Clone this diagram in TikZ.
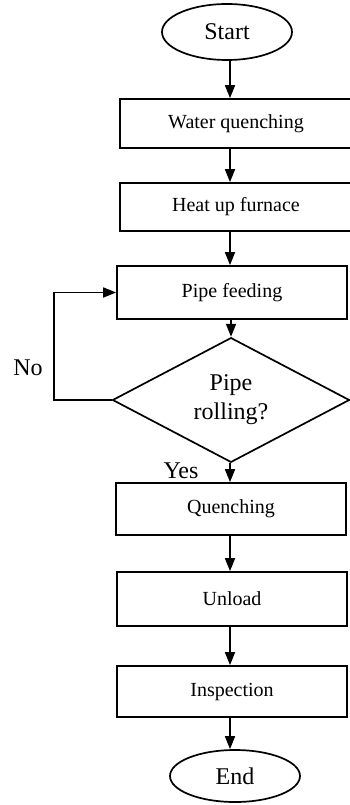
\documentclass[tikz,border=0pt]{standalone}
\usepackage{fontspec}
\setmainfont{Liberation Serif}
\usetikzlibrary{arrows.meta}
\usetikzlibrary{shapes.geometric}

\begin{document}
\begin{tikzpicture}[
  x=1pt, y=-1pt,
  line width=1.7pt,
  >={Triangle[length=13pt,width=10pt]},
  stepbox/.style = {draw, rectangle, minimum width=230pt, inner sep=0pt,
                    font=\fontsize{20}{24}\selectfont},
  term/.style = {draw, ellipse, minimum width=130pt, minimum height=54pt,
                 inner sep=0pt, font=\fontsize{24}{28}\selectfont},
  test/.style = {draw, diamond, minimum width=237pt, minimum height=94pt,
                 inner sep=0pt, align=center, font=\fontsize{24}{29}\selectfont},
  tag/.style = {font=\fontsize{24}{28}\selectfont}
]
  \useasboundingbox (0,0) rectangle (349,805);

  \coordinate (axis) at (230,0);

  \node[term, minimum height=56pt] (start) at (227,32) {Start};
  \node[stepbox, minimum width=232pt, minimum height=49pt] (water) at (236,123.5) {Water quenching};
  \node[stepbox, minimum width=232pt, minimum height=48pt] (heat) at (236,207) {Heat up furnace};
  \node[stepbox, minimum height=53pt] (feed) at (232,292.5) {Pipe feeding};
  \node[test] (roll) at (231,400) {Pipe\\rolling?};
  \node[stepbox, minimum height=52pt] (quench) at (231,509) {Quenching};
  \node[stepbox, minimum height=54pt] (unload) at (232,599) {Unload};
  \node[stepbox, minimum height=51pt] (insp) at (232,691.5) {Inspection};
  \node[term, minimum height=52pt] (end) at (235,776) {End};

  \node[tag] (no) at (28,368) {No};
  \node[tag] (yes) at (181,471) {Yes};

  % main flow
  \draw[->] (axis |- start.south) -- (axis |- water.north);
  \draw[->] (axis |- water.south) -- (axis |- heat.north);
  \draw[->] (axis |- heat.south) -- (axis |- feed.north);
  \draw[->] (roll.north |- feed.south) -- (roll.north);
  \draw[->] (axis |- roll.south) -- (axis |- quench.north);
  \draw[->] (axis |- quench.south) -- (axis |- unload.north);
  \draw[->] (axis |- unload.south) -- (axis |- insp.north);
  \draw[->] (axis |- insp.south) -- (axis |- end.north);

  % loop back
  \draw[->] (roll.west) -- ++(-58,0) |- (feed.west);

\end{tikzpicture}
\end{document}
